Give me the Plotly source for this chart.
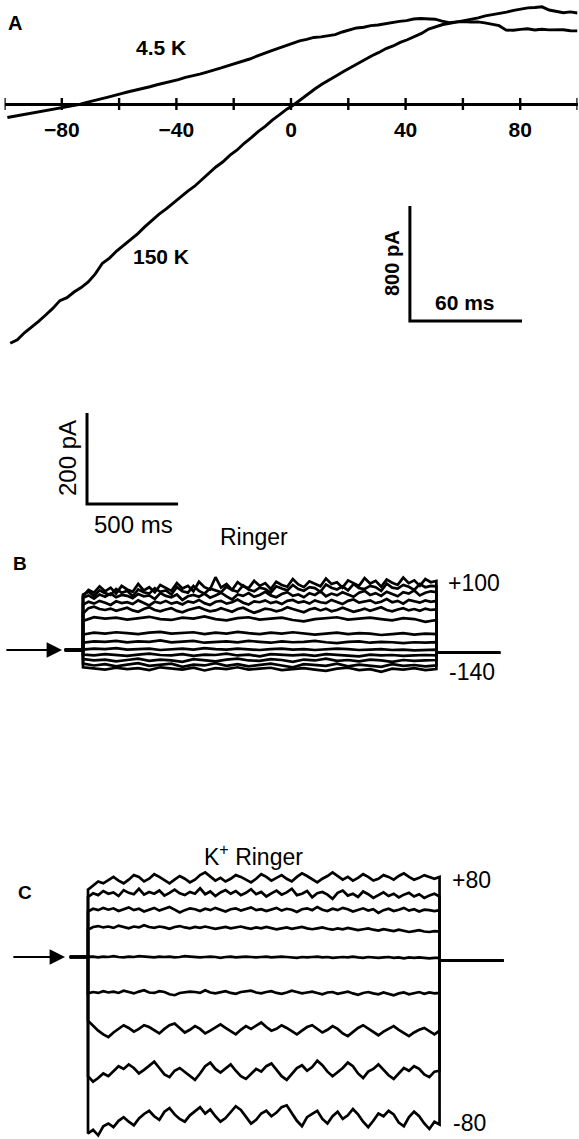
import numpy as np
import plotly.graph_objects as go

W, H = 579, 1139
FONT = "Liberation Sans, Arial, Helvetica, sans-serif"

# ---------------- Panel A: ramp currents (mV, pA) ----------------
A_TICKS = [-100, -80, -60, -40, -20, 0, 20, 40, 60, 80, 100]
A_TICKTEXT = ["", "\u221280", "", "\u221240", "", "0", "", "40", "", "80", ""]
A_V_START, A_V_END = -99.0, 100.0
A_45K = [-94, -85, -78, -70, -61, -53, -45, -33, -25, -13, -4, 9, 19, 34, 46, 61, 72, 85,
         95, 109, 120, 134, 144, 158, 169, 185, 195, 208, 222, 239, 251, 267, 281, 299,
         313, 333, 349, 369, 387, 406, 421, 439, 449, 463, 467, 477, 483, 501, 514, 529,
         534, 545, 550, 559, 565, 575, 580, 591, 595, 590, 590, 577, 566, 571, 574, 570,
         571, 564, 556, 545, 514, 513, 519, 523, 515, 520, 516, 515, 517, 510, 509]
A_150K = [-1665, -1640, -1592, -1553, -1512, -1468, -1422, -1368, -1347, -1308, -1277,
          -1238, -1182, -1108, -1072, -1023, -982, -943, -902, -853, -810, -766, -730,
          -688, -652, -608, -572, -528, -477, -438, -402, -356, -320, -273, -234, -190,
          -154, -110, -74, -36, -5, 33, 67, 106, 139, 171, 197, 226, 254, 283, 307, 336,
          359, 386, 404, 429, 447, 471, 491, 521, 539, 553, 561, 571, 577, 589, 599, 613,
          621, 631, 639, 651, 659, 669, 671, 676, 654, 643, 635, 641, 633]
A_SCALE_PA = 800          # pA
A_SCALE_MS = 60           # ms
A_RAMP_MV_PER_MS = 0.652  # ramp speed

# ---------------- Panel B: Ringer, steps -140..+100 mV ----------------
B_STEP_MV = [100, 80, 60, 40, 20, 0, -20, -40, -60, -80, -100, -120, -140]
B_T_PRE, B_T_STEP, B_T_POST = -100, 1940, 2290
B_HOLD_PRE, B_HOLD_POST = 0, -6
B_TRACES = [
    [118, 132, 126, 140, 129, 137, 124, 141, 133, 128, 145, 131, 138, 127, 143, 136, 130, 147, 135, 141,
     129, 150, 138, 133, 160, 137, 145, 132, 149, 140, 136, 152, 141, 147, 134, 150, 143, 139, 156, 144,
     138, 151, 146, 140, 157, 145, 149, 137, 153, 147, 141, 158, 146, 152, 139, 155, 148, 143, 159, 147,
     153, 141, 156, 149, 152],
    [122, 128, 119, 131, 125, 121, 134, 126, 130, 118, 133, 127, 124, 136, 128, 131, 122, 138, 129, 126,
     141, 130, 124, 135, 131, 127, 139, 132, 128, 142, 133, 129, 137, 134, 126, 140, 135, 131, 143, 134,
     130, 138, 136, 128, 144, 137, 133, 140, 131, 145, 136, 134, 141, 138, 130, 146, 137, 135, 143, 139,
     132, 145, 138, 141, 140],
    [115, 120, 113, 122, 117, 124, 116, 121, 119, 114, 123, 118, 120, 112, 125, 119, 116, 122, 110, 118,
     121, 117, 124, 115, 120, 126, 118, 111, 122, 119, 125, 117, 121, 128, 120, 116, 123, 127, 119, 122,
     116, 125, 121, 129, 118, 124, 120, 127, 122, 117, 126, 130, 121, 125, 119, 128, 123, 118, 127, 124,
     131, 120, 126, 129, 127],
    [100, 106, 102, 108, 104, 99, 107, 103, 105, 101, 109, 104, 98, 106, 103, 108, 102, 105, 100, 107,
     104, 110, 103, 99, 106, 108, 102, 105, 111, 104, 100, 107, 105, 109, 103, 106, 101, 108, 110, 104,
     107, 102, 109, 105, 103, 110, 106, 101, 108, 111, 104, 107, 109, 103, 106, 112, 105, 108, 102, 110,
     107, 104, 109, 106, 108],
    [80, 92, 95, 90, 88, 91, 86, 89, 93, 87, 84, 90, 94, 88, 85, 89, 92, 86, 83, 88,
     91, 94, 89, 85, 87, 92, 88, 84, 90, 93, 87, 82, 86, 91, 89, 85, 88, 94, 90, 86,
     83, 89, 92, 87, 91, 85, 88, 93, 89, 84, 87, 91, 86, 90, 94, 88, 85, 89, 92, 87,
     90, 86, 91, 88, 89],
    [64, 72, 69, 71, 67, 70, 73, 68, 66, 71, 69, 74, 68, 65, 70, 72, 67, 69, 71, 66,
     63, 68, 70, 72, 67, 69, 71, 68, 65, 70, 68, 62, 66],
    [34, 38, 36, 39, 37, 35, 38, 40, 36, 37, 39, 35, 38, 36, 40, 37, 35, 38, 36, 39,
     37, 34, 36, 38, 35, 37, 36, 33, 35, 37, 34, 36, 35],
    [16, 19, 18, 20, 17, 19, 18, 21, 17, 19, 20, 16, 18, 19, 17, 20, 18, 16, 19, 17,
     18, 20, 17, 15, 18, 19, 16, 18, 17, 15, 17, 16, 17],
    [1, 3, 2, 4, 1, 2, 3, 0, 2, 3, 1, 4, 2, 1, 3, 2, 0, 2, 3, 1,
     2, 0, 1, 3, 2, 0, 1, 2, 0, 1, -1, 0, 1],
    [-10, -12, -9, -11, -13, -10, -8, -11, -12, -9, -13, -10, -11, -8, -12, -10, -14, -9, -11, -12,
     -10, -13, -9, -11, -12, -14, -10, -12, -11, -13, -12, -11, -12],
    [-20, -23, -21, -25, -22, -19, -24, -21, -23, -26, -20, -22, -25, -21, -19, -23, -24, -20, -22, -26,
     -21, -23, -19, -24, -22, -25, -21, -23, -26, -22, -24, -23, -22],
    [-30, -34, -31, -36, -32, -29, -35, -33, -30, -37, -32, -34, -29, -35, -31, -36, -33, -30, -34, -38,
     -31, -33, -35, -30, -36, -32, -34, -37, -31, -35, -33, -36, -34],
    [-38, -41, -43, -39, -42, -40, -44, -38, -41, -43, -39, -45, -40, -42, -38, -43, -41, -39, -44, -42,
     -40, -43, -46, -41, -39, -44, -42, -48, -41, -43, -40, -44, -42],
]
B_SCALE_MS, B_SCALE_PA = 500, 200

# ---------------- Panel C: K+ Ringer, steps -80..+80 mV ----------------
C_STEP_MV = [80, 60, 40, 20, 0, -20, -40, -60, -80]
C_T_PRE, C_T_STEP, C_T_POST = -100, 1930, 2280
C_HOLD_PRE, C_HOLD_POST = 0, -8
C_TRACES = [
    [148, 158, 166, 162, 170, 176, 168, 162, 170, 180, 176, 166, 172, 182, 176, 168, 162, 170, 178, 172,
     164, 170, 180, 186, 176, 168, 174, 166, 172, 180, 176, 170, 164, 172, 182, 176, 168, 174, 180, 172,
     166, 176, 184, 178, 170, 164, 172, 178, 186, 178, 170, 176, 168, 174, 182, 176, 168, 172, 180, 176,
     170, 178, 184, 176, 170, 174, 180, 176, 172, 176],
    [132, 140, 136, 145, 139, 142, 134, 147, 141, 138, 150, 137, 143, 139, 146, 135, 141, 148, 140, 136,
     143, 139, 151, 138, 144, 134, 142, 147, 139, 145, 136, 141, 149, 138, 143, 133, 140, 146, 137, 142,
     150, 136, 139, 145, 131, 140, 143, 137, 128, 141, 146, 135, 139, 132, 144, 138, 130, 136, 142, 134,
     139, 131, 137, 141, 133, 138, 130, 135, 139, 133],
    [100, 106, 103, 108, 104, 107, 101, 105, 109, 103, 106, 100, 104, 108, 102, 106, 110, 104, 98, 103,
     107, 105, 101, 106, 103, 108, 104, 100, 105, 107, 102, 106, 109, 103, 105, 101, 104, 108, 102, 106,
     104, 99, 105, 107, 103, 110, 104, 101, 106, 103, 108, 105, 100, 104, 107, 102, 105, 97, 103, 106,
     101, 104, 108, 102, 105, 100, 104, 103, 101, 103],
    [60, 66, 68, 65, 67, 64, 69, 66, 63, 67, 65, 70, 66, 64, 67, 65, 62, 66, 68, 65,
     63, 66, 64, 67, 65, 62, 64, 66, 63, 65, 67, 64, 62, 65, 63, 66, 64, 61, 63, 65,
     62, 64, 66, 63, 61, 63, 65, 62, 60, 63, 61, 64, 62, 59, 61, 63, 60, 58, 61, 59,
     57, 60, 58, 55, 57, 59, 56, 55, 57, 56],
    [0, 1, -1, 1, 0, 2, 0, -1, 1, 0, 2, 1, 0, -1, 1, 0, 1, -1, 0, 2,
     1, 0, -1, 0, 1, 0, -2, 0, 1, -1, 0, 1, 0, -1, 0, 1, -1, 0, 1, 0,
     -1, -2, 0, -1, 0, 1, -1, 0, -2, -1, 0, -1, 1, -1, -2, 0, -1, -2, -1, 0,
     -2, -1, -3, -1, -2, -1, -2, -3, -2, -2],
    [-80, -77, -79, -75, -78, -76, -79, -74, -77, -80, -76, -73, -78, -79, -75, -77, -82, -84, -79, -78,
     -76, -77, -79, -73, -78, -80, -77, -75, -79, -81, -77, -76, -74, -78, -80, -77, -75, -79, -81, -78,
     -74, -77, -80, -78, -76, -79, -82, -78, -77, -81, -79, -76, -80, -83, -79, -77, -80, -82, -78, -81,
     -84, -80, -78, -82, -79, -77, -81, -78, -80, -79],
    [-140, -152, -162, -170, -176, -166, -158, -150, -156, -164, -158, -150, -154, -162, -168, -158, -150,
     -146, -156, -166, -160, -152, -158, -168, -162, -154, -148, -156, -164, -170, -160, -152, -158, -150,
     -144, -154, -162, -158, -150, -156, -164, -170, -162, -154, -150, -158, -166, -160, -152, -158, -168,
     -174, -164, -156, -150, -158, -166, -172, -164, -158, -152, -160, -168, -174, -166, -160, -156, -164,
     -170, -162],
    [-262, -274, -266, -256, -262, -250, -240, -246, -236, -244, -256, -248, -238, -230, -244, -258, -264,
     -250, -244, -252, -262, -270, -256, -240, -232, -246, -254, -244, -236, -250, -262, -268, -256, -246,
     -252, -240, -234, -248, -262, -270, -258, -244, -238, -250, -242, -228, -238, -252, -262, -254, -244,
     -232, -240, -256, -266, -252, -246, -236, -248, -260, -268, -256, -244, -250, -240, -246, -258, -264,
     -252, -250],
    [-388, -380, -392, -372, -366, -374, -360, -352, -362, -370, -355, -345, -338, -350, -358, -340, -332,
     -346, -356, -362, -348, -340, -330, -344, -335, -350, -362, -354, -340, -328, -336, -352, -366, -358,
     -344, -338, -350, -342, -330, -326, -342, -360, -372, -352, -345, -338, -356, -366, -350, -340, -356,
     -348, -334, -346, -362, -374, -360, -344, -350, -338, -346, -364, -372, -352, -340, -350, -366, -378,
     -362, -368],
]

# ---------------- layout helpers (pixel geometry) ----------------
def fx(px):
    return px / W

def fy(py):
    return 1 - py / H

LINE = dict(color="black", width=2.7)

fig = go.Figure()

# Panel A curves
vA = np.linspace(A_V_START, A_V_END, len(A_45K))
fig.add_trace(go.Scatter(x=vA, y=A_45K, mode="lines", line=dict(color="black", width=2.9),
                         xaxis="x", yaxis="y", hoverinfo="skip"))
vB = np.linspace(-98.0, A_V_END, len(A_150K))
fig.add_trace(go.Scatter(x=vB, y=A_150K, mode="lines", line=dict(color="black", width=2.9),
                         xaxis="x", yaxis="y", hoverinfo="skip"))

# Panel A scale bar (corner in data units)
a_cx, a_cy = 41.5, -1510
fig.add_trace(go.Scatter(x=[a_cx, a_cx, a_cx + A_SCALE_MS * A_RAMP_MV_PER_MS],
                         y=[a_cy + A_SCALE_PA, a_cy, a_cy], mode="lines",
                         line=dict(color="black", width=3), xaxis="x", yaxis="y", hoverinfo="skip"))

# Panel B traces
for vals in B_TRACES:
    t = np.linspace(0, B_T_STEP, len(vals))
    x = [B_T_PRE, 0] + list(t) + [B_T_STEP, B_T_POST]
    y = [B_HOLD_PRE, B_HOLD_PRE] + list(vals) + [B_HOLD_POST, B_HOLD_POST]
    fig.add_trace(go.Scatter(x=x, y=y, mode="lines", line=LINE, xaxis="x2", yaxis="y2",
                             hoverinfo="skip"))

# Panel B scale bar
b_cx, b_cy = 22, 321
fig.add_trace(go.Scatter(x=[b_cx, b_cx, b_cx + B_SCALE_MS],
                         y=[b_cy + B_SCALE_PA, b_cy, b_cy], mode="lines",
                         line=dict(color="black", width=3), xaxis="x2", yaxis="y2", hoverinfo="skip"))

# Panel C traces
for vals in C_TRACES:
    t = np.linspace(0, C_T_STEP, len(vals))
    x = [C_T_PRE, 0] + list(t) + [C_T_STEP, C_T_POST]
    y = [C_HOLD_PRE, C_HOLD_PRE] + list(vals) + [C_HOLD_POST, C_HOLD_POST]
    fig.add_trace(go.Scatter(x=x, y=y, mode="lines", line=LINE, xaxis="x3", yaxis="y3",
                             hoverinfo="skip"))

hidden = dict(visible=False, showgrid=False, zeroline=False, fixedrange=True)

ann = []
def text(px, py, s, size, bold=False, angle=0):
    ann.append(dict(x=fx(px), y=fy(py), xref="paper", yref="paper", text=(f"<b>{s}</b>" if bold else s),
                    showarrow=False, xanchor="center", yanchor="middle", textangle=angle,
                    font=dict(family=FONT, size=size, color="black")))

# Panel A texts
text(15, 23, "A", 20, bold=True)
text(161, 48, "4.5 K", 21, bold=True)
text(161, 257, "150 K", 21, bold=True)
text(392, 263, "800 pA", 20, bold=True, angle=-90)
text(465, 302, "60 ms", 21, bold=True)

# Panel B texts
text(67, 458, "200 pA", 24, angle=-90)
text(133, 524, "500 ms", 24)
text(254, 537, "Ringer", 23)
text(20, 563, "B", 19, bold=True)
text(474, 583, "+100", 23)
text(472, 672, "-140", 23)

# Panel C texts
text(253, 855, "K<sup>+</sup> Ringer", 23)
text(25, 892, "C", 19, bold=True)
text(471, 880, "+80", 23)
text(469, 1123, "-80", 23)

# arrows
ann.append(dict(x=-115, y=0, ax=-429, ay=0, xref="x2", yref="y2", axref="x2", ayref="y2",
                showarrow=True, arrowhead=2, arrowsize=1.4, arrowwidth=2.2, arrowcolor="black", text=""))
ann.append(dict(x=-126, y=0, ax=-418, ay=0, xref="x3", yref="y3", axref="x3", ayref="y3",
                showarrow=True, arrowhead=2, arrowsize=1.4, arrowwidth=2.2, arrowcolor="black", text=""))

# crossing tick marks on the panel A voltage axis
shapes = []
for v in A_TICKS:
    shapes.append(dict(type="line", xref="x", yref="y", x0=v, x1=v, y0=-6, y1=6,
                       ysizemode="pixel", yanchor=0, line=dict(color="black", width=2.4)))

fig.update_layout(
    width=W, height=H, margin=dict(l=0, r=0, t=0, b=0),
    paper_bgcolor="white", plot_bgcolor="rgba(0,0,0,0)", showlegend=False,
    xaxis=dict(range=[-100, 100], domain=[fx(4.5), fx(577.5)], anchor="free", position=fy(104),
               showgrid=False, zeroline=False, showline=True, linecolor="black", linewidth=2.6,
               tickvals=A_TICKS, ticktext=[f"<b>{t}</b>" if t else "" for t in A_TICKTEXT],
               ticks="outside", ticklen=6, tickcolor="rgba(0,0,0,0)",
               tickfont=dict(family=FONT, size=21, color="black"), fixedrange=True),
    yaxis=dict(range=[(104 - 360) * 6.957, 104 * 6.957], domain=[fy(360), 1], **hidden),
    xaxis2=dict(range=[-83 * 5.49, (W - 83) * 5.49], domain=[0, 1], anchor="y2", **hidden),
    yaxis2=dict(range=[(650 - 700) * 2.198, (650 - 380) * 2.198], domain=[fy(700), fy(380)],
                anchor="x2", **hidden),
    xaxis3=dict(range=[-88 * 5.49, (W - 88) * 5.49], domain=[0, 1], anchor="y3", **hidden),
    yaxis3=dict(range=[(957 - H) * 2.198, (957 - 700) * 2.198], domain=[0, fy(700)],
                anchor="x3", **hidden),
    annotations=ann,
    shapes=shapes,
)

fig.write_html("out.html")
